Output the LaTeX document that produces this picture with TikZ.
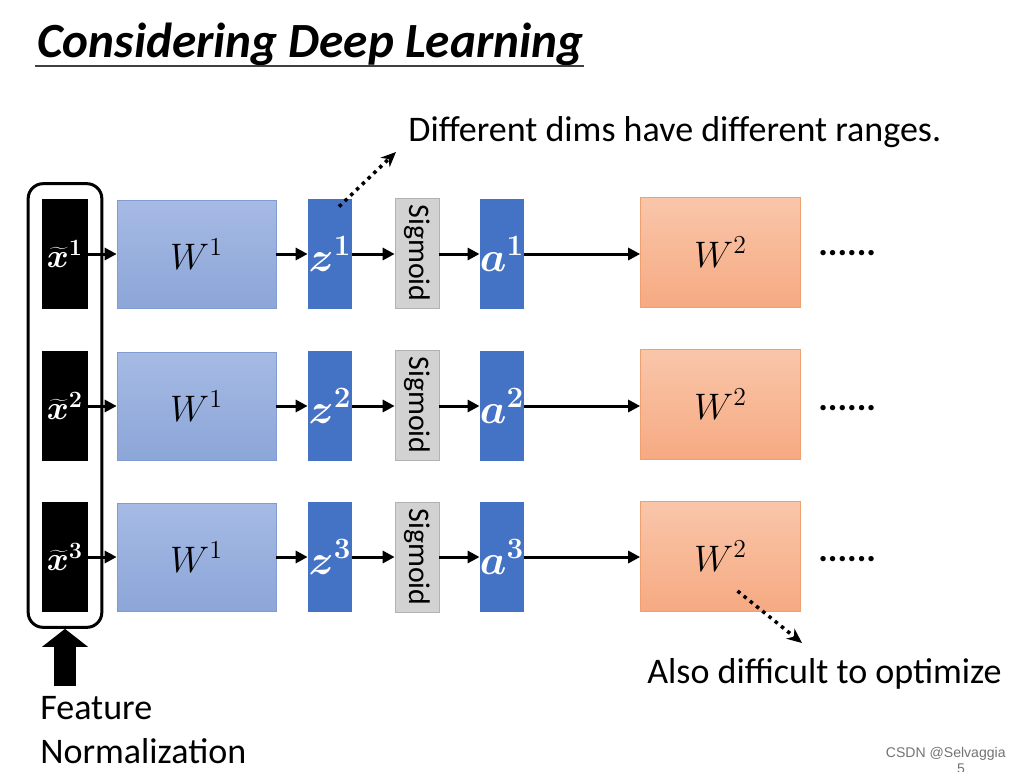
\RequirePackage{fix-cm}
\documentclass[tikz,border=0pt]{standalone}
\usepackage{fontspec}
\setmainfont{Carlito}
\newfontfamily\markfont{Liberation Sans}
\usetikzlibrary{arrows.meta,fit}

\definecolor{wonetop}{RGB}{166,186,228}
\definecolor{wonebot}{RGB}{140,166,216}
\definecolor{woneline}{RGB}{128,156,210}
\definecolor{wtwotop}{RGB}{249,198,170}
\definecolor{wtwobot}{RGB}{246,170,130}
\definecolor{wtwoline}{RGB}{240,160,112}
\definecolor{valblue}{RGB}{68,114,196}
\definecolor{siggray}{RGB}{210,210,210}

\tikzset{
    xbox/.style={rectangle, fill=black, text=white, inner sep=0pt, minimum width=0.92cm, minimum height=2.2cm, font=\fontsize{19}{19}\selectfont\boldmath},
    wone/.style={rectangle, draw=woneline, top color=wonetop, bottom color=wonebot, minimum width=3.18cm, minimum height=2.16cm, font=\fontsize{21}{21}\selectfont},
    wtwo/.style={rectangle, draw=wtwoline, top color=wtwotop, bottom color=wtwobot, minimum width=3.2cm, minimum height=2.2cm, font=\fontsize{21}{21}\selectfont},
    valbox/.style={rectangle, fill=valblue, text=white, inner sep=0pt, minimum width=0.88cm, minimum height=2.2cm, font=\fontsize{24}{24}\selectfont\boldmath},
    sigbox/.style={rectangle, draw=black!30, fill=siggray, inner sep=0pt, minimum width=0.88cm, minimum height=2.2cm, font=\fontsize{17}{17}\selectfont},
    flow/.style={-{Triangle[length=0.24cm, width=0.24cm]}, line width=0.06cm},
    dotflow/.style={-{Stealth[length=0.3cm, width=0.26cm]}, line width=0.07cm, dash pattern=on 0.07cm off 0.09cm},
    say/.style={anchor=base west, inner sep=0pt, font=\fontsize{20.5}{24}\selectfont},
}

\begin{document}
\begin{tikzpicture}[x=0.02cm, y=-0.02cm]
    \useasboundingbox (0,0) rectangle (1021,771);

    % title
    \node (title) at (37,57) [anchor=base west, inner sep=0pt, font=\fontsize{28}{30}\selectfont\bfseries\itshape] {Considering Deep Learning};
    \draw[line width=0.04cm, black!75] ([xshift=-0.04cm]title.south west) -- (title.south east);

    % first row
    \node (xt1) at (65,254) [xbox] {$\widetilde{x}^{1}$};
    \node (wa1) at (196.5,254) [wone] {$W^1$};
    \node (z1) at (330,254) [valbox] {$z^1$};
    \node (sig1) at (417,253) [sigbox] {\rotatebox{-90}{Sigmoid}};
    \node (a1) at (502,254) [valbox] {$a^1$};
    \node (wb1) at (720.5,252) [wtwo] {$W^2$};
    \node (more1) at (818,255) [say, font=\fontsize{20.5}{24}\selectfont\bfseries] {......};

    % second row
    \node (xt2) at (65,406) [xbox] {$\widetilde{x}^{2}$};
    \node (wa2) at (196.5,406) [wone] {$W^1$};
    \node (z2) at (330,406) [valbox] {$z^2$};
    \node (sig2) at (417,405) [sigbox] {\rotatebox{-90}{Sigmoid}};
    \node (a2) at (502,406) [valbox] {$a^2$};
    \node (wb2) at (720.5,404) [wtwo] {$W^2$};
    \node (more2) at (818,410) [say, font=\fontsize{20.5}{24}\selectfont\bfseries] {......};

    % third row
    \node (xt3) at (65,557) [xbox] {$\widetilde{x}^{3}$};
    \node (wa3) at (196.5,557) [wone] {$W^1$};
    \node (z3) at (330,557) [valbox] {$z^3$};
    \node (sig3) at (417,557) [sigbox] {\rotatebox{-90}{Sigmoid}};
    \node (a3) at (502,557) [valbox] {$a^3$};
    \node (wb3) at (720.5,556) [wtwo] {$W^2$};
    \node (more3) at (818,561) [say, font=\fontsize{20.5}{24}\selectfont\bfseries] {......};

    \draw[flow] (xt1.east) -- (wa1.west);
    \draw[flow] (wa1.east) -- (z1.west);
    \draw[flow] (z1.east) -- (sig1.west |- z1.east);
    \draw[flow] (sig1.east |- a1.west) -- (a1.west);
    \draw[flow] (a1.east) -- (wb1.west |- a1.east);
    \draw[flow] (xt2.east) -- (wa2.west);
    \draw[flow] (wa2.east) -- (z2.west);
    \draw[flow] (z2.east) -- (sig2.west |- z2.east);
    \draw[flow] (sig2.east |- a2.west) -- (a2.west);
    \draw[flow] (a2.east) -- (wb2.west |- a2.east);
    \draw[flow] (xt3.east) -- (wa3.west);
    \draw[flow] (wa3.east) -- (z3.west);
    \draw[flow] (z3.east) -- (sig3.west);
    \draw[flow] (sig3.east) -- (a3.west);
    \draw[flow] (a3.east) -- (wb3.west |- a3.east);

    % feature normalization
    \node (norm) [fit=(xt1)(xt3), draw, rounded corners=0.3cm, line width=0.06cm, inner xsep=0.27cm, inner ysep=0.3cm] {};
    \coordinate (normfoot) at (65,686);
    \draw[line width=0.46cm, -{Triangle[length=0.36cm, width=0.9cm]}] (normfoot) -- (norm.south);
    \node (feat) at (40,719) [say] {Feature};
    \node (featnorm) at (40,763) [say] {Normalization};

    % remarks
    \node (ranges) at (408,141) [say] {Different dims have different ranges.};
    \coordinate (rangestip) at (396,152);
    \draw[dotflow] ([shift={(9,8)}]z1.north) -- (rangestip);
    \node (optim) at (647,683) [say] {Also difficult to optimize};
    \coordinate (optimtip) at (802,643);
    \draw[dotflow] ([shift={(17,35)}]wb3.center) -- (optimtip);

    \node (mark) at (1006,757) [anchor=base east, inner sep=0pt, text=black!55, font=\markfont\fontsize{8}{8}\selectfont] {CSDN @Selvaggia};
    \node (page) at (961,773) [anchor=base, inner sep=0pt, text=black!55, font=\markfont\fontsize{8}{8}\selectfont] {5};
\end{tikzpicture}
\end{document}
